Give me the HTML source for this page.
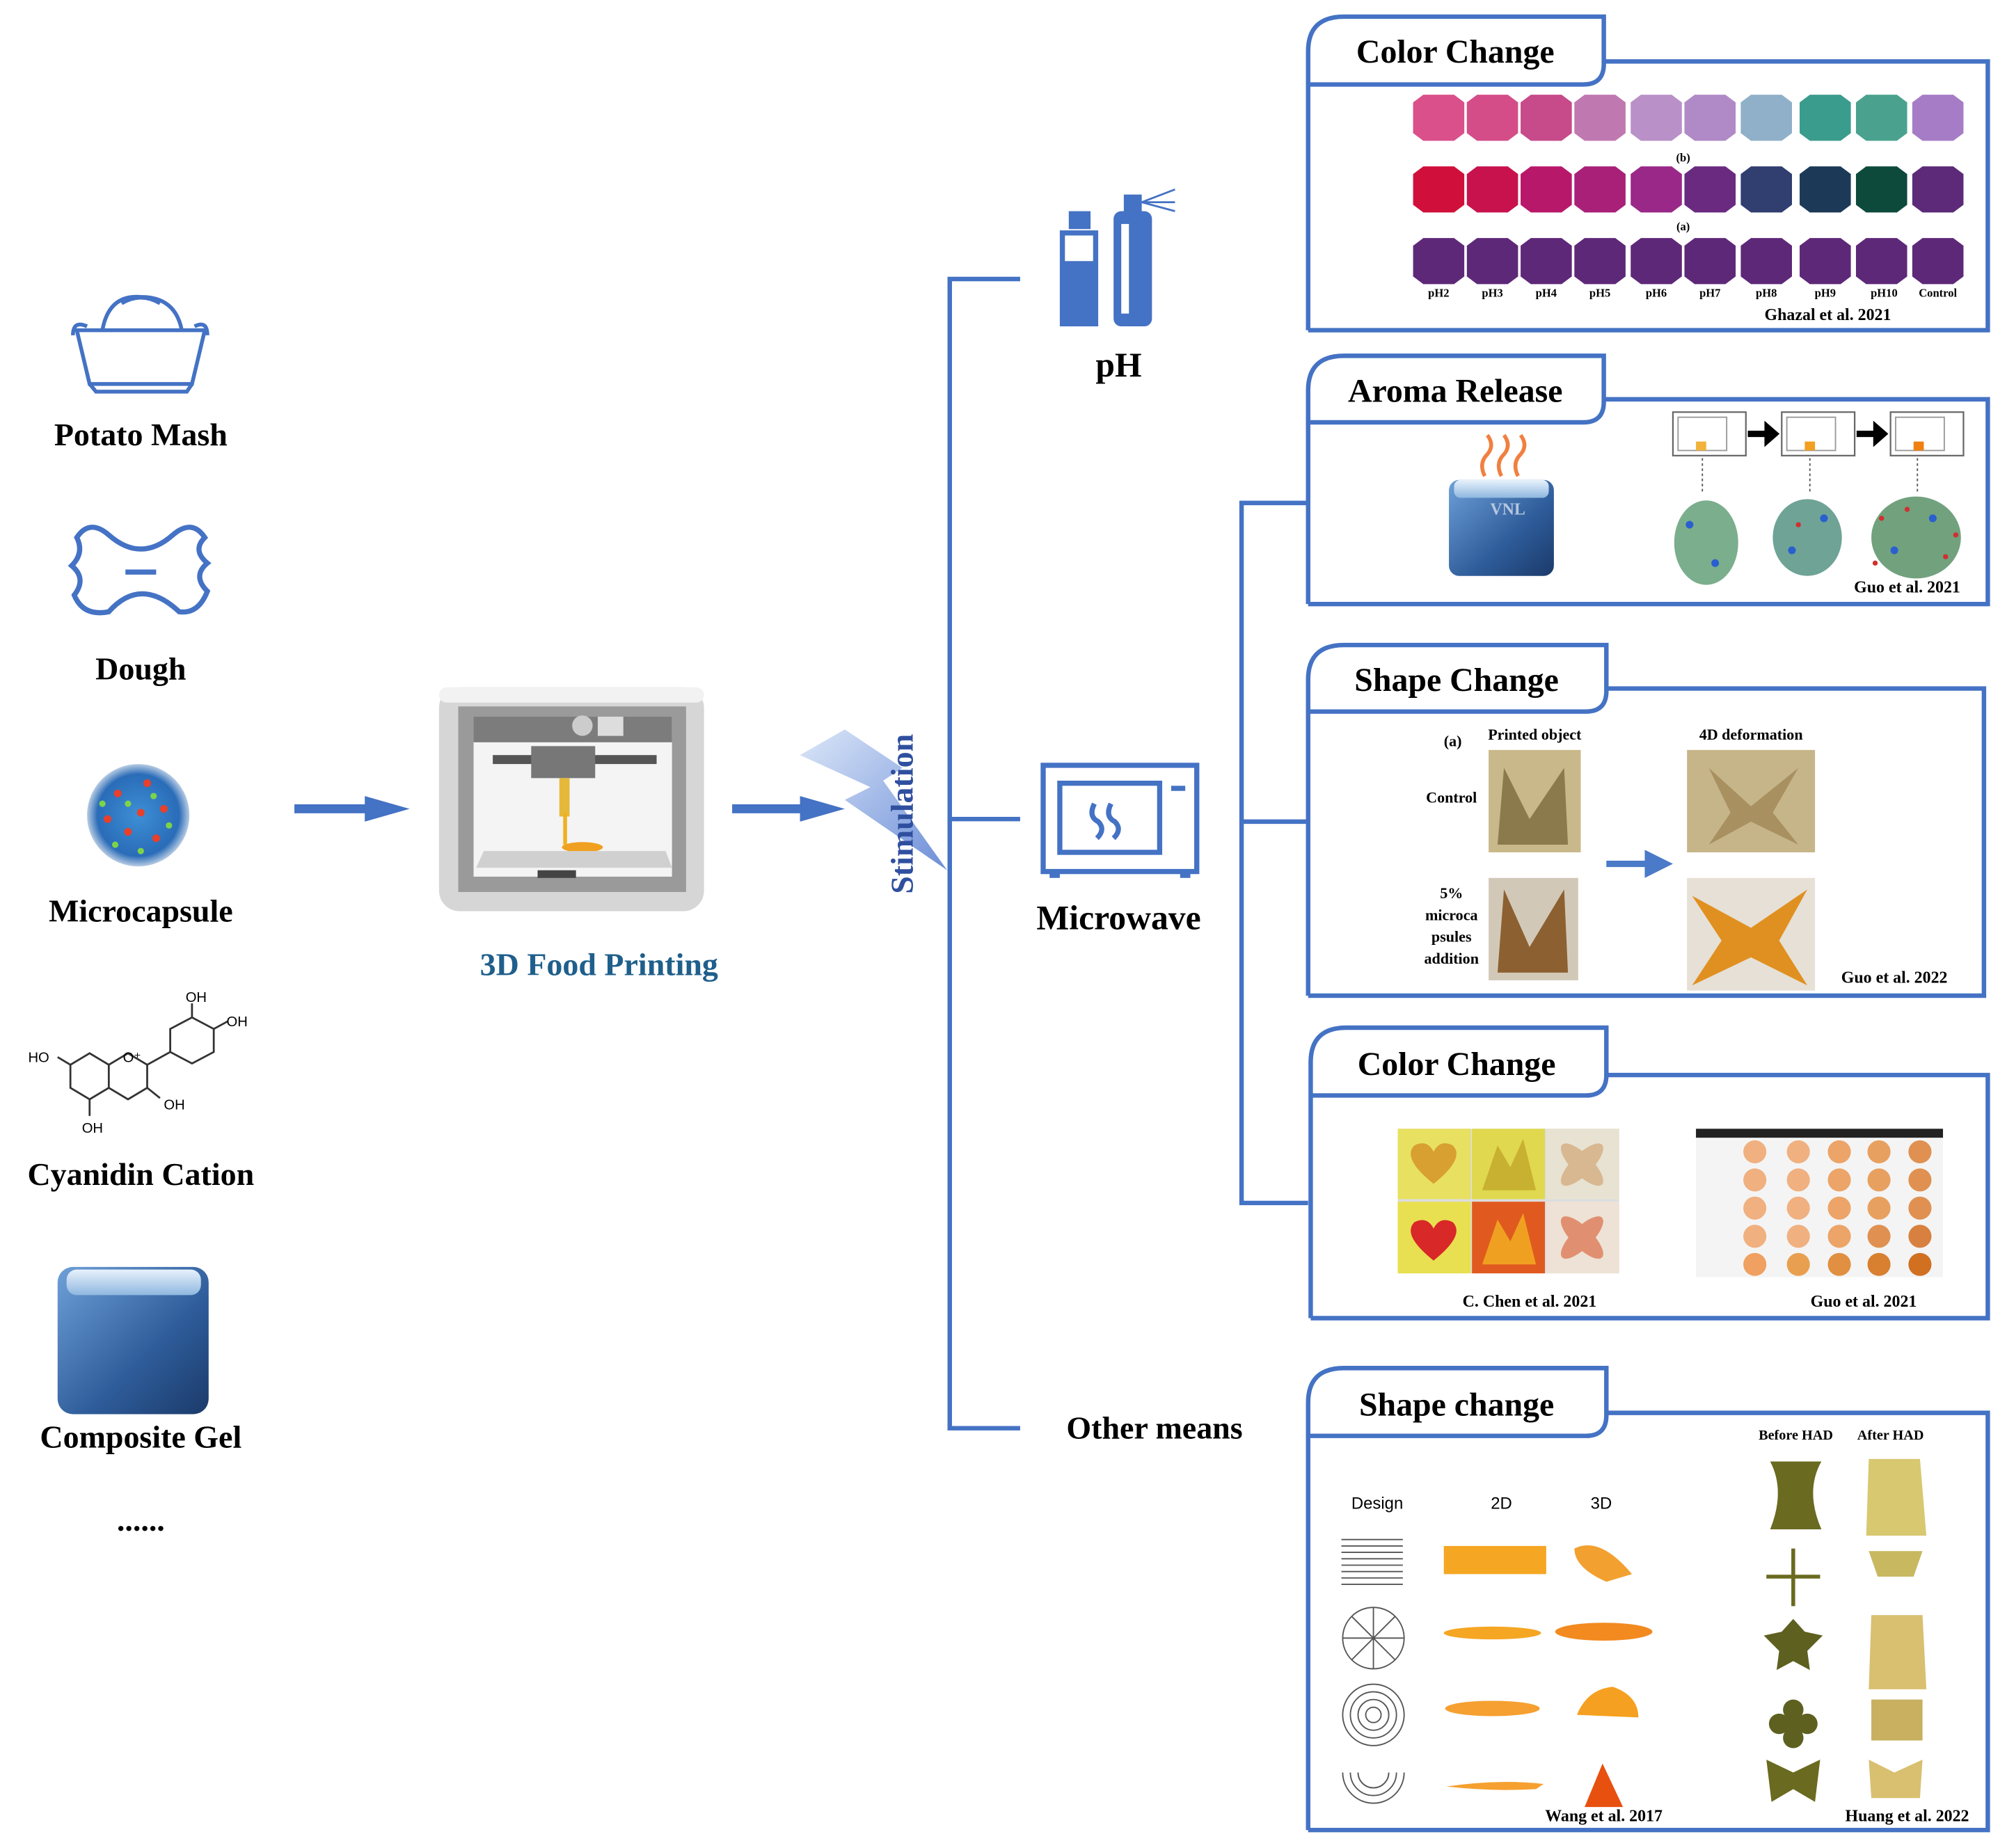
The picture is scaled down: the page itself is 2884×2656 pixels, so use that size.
<!DOCTYPE html>
<html><head><meta charset="utf-8"><style>
html,body{margin:0;padding:0;background:#fff;}
svg{display:block;}
text{font-family:"Liberation Serif",serif;font-weight:bold;fill:#000;}
</style></head><body>
<svg width="2884" height="2656" viewBox="0 0 1568 1444" xmlns="http://www.w3.org/2000/svg">
<defs>
<linearGradient id="cube" x1="0" y1="0" x2="1" y2="1"><stop offset="0" stop-color="#6fa0d8"/><stop offset="0.6" stop-color="#2e5c9a"/><stop offset="1" stop-color="#1b3a6a"/></linearGradient>
<linearGradient id="cubetop" x1="0" y1="0" x2="0" y2="1"><stop offset="0" stop-color="#e8f2fb"/><stop offset="1" stop-color="#8fb7e0"/></linearGradient>
<radialGradient id="mc" cx="0.5" cy="0.5" r="0.5"><stop offset="0" stop-color="#3d8fd6"/><stop offset="0.8" stop-color="#2a6cb8"/><stop offset="1" stop-color="#b7cbe3"/></radialGradient>
<linearGradient id="bolt" x1="0" y1="0" x2="1" y2="1"><stop offset="0" stop-color="#dbe6f8"/><stop offset="1" stop-color="#6d8fd8"/></linearGradient>
<path id="hx" d="M-20,-12 L-12,-18 L12,-18 L20,-12 L20,12 L12,18 L-12,18 L-20,12 Z"/>
</defs>

<!-- Left icons -->
<g fill="none" stroke="#4472c4" stroke-width="3">
<path d="M60,258 L160,258 L150,300 L70,300 Z"/>
<path d="M57,262 Q57,250 68,255 M162,262 Q162,250 152,255"/>
<path d="M80,258 Q85,230 110,232 Q137,232 142,258"/>
<path d="M70,300 L75,306 L146,306 L150,300"/>
<path d="M95,237 Q110,228 125,237"/>
<path d="M60,420 Q70,405 85,418 Q110,440 135,418 Q150,405 160,420 Q150,430 162,440 Q150,450 162,462 Q155,480 140,478 Q110,450 85,478 Q65,482 58,465 Q68,452 56,442 Q66,432 60,420 Z" stroke-width="4"/>
<path d="M98,447 L122,447" stroke-width="4"/>
</g>
<circle cx="108" cy="637" r="40" fill="url(#mc)"/>
<g fill="#e8402a"><circle cx="92" cy="620" r="3"/><circle cx="115" cy="612" r="3"/><circle cx="128" cy="632" r="3"/><circle cx="100" cy="650" r="3"/><circle cx="122" cy="655" r="3"/><circle cx="84" cy="640" r="3"/><circle cx="110" cy="635" r="3"/></g>
<g fill="#7bd34a"><circle cx="100" cy="628" r="2.5"/><circle cx="120" cy="622" r="2.5"/><circle cx="90" cy="660" r="2.5"/><circle cx="132" cy="645" r="2.5"/><circle cx="110" cy="665" r="2.5"/><circle cx="80" cy="628" r="2.5"/></g>
<!-- cyanidin -->
<g fill="none" stroke="#333" stroke-width="1.5">
<path d="M55,832 L70,823 L85,832 L85,850 L70,859 L55,850 Z"/>
<path d="M85,832 L100,823 L115,832 L115,850 L100,859 L85,850"/>
<path d="M115,832 L133,822 L133,804 L150,795 L167,804 L167,822 L150,831 L133,822"/>
<path d="M150,795 L150,784 M167,804 L178,798 M115,850 L125,858 M70,859 L70,872 M55,832 L45,826"/>
</g>
<g font-size="11">
<text x="145" y="783" style="font-weight:normal;font-family:'Liberation Sans',sans-serif">OH</text>
<text x="177" y="802" style="font-weight:normal;font-family:'Liberation Sans',sans-serif">OH</text>
<text x="22" y="830" style="font-weight:normal;font-family:'Liberation Sans',sans-serif">HO</text>
<text x="96" y="830" style="font-weight:normal;font-family:'Liberation Sans',sans-serif">O⁺</text>
<text x="128" y="867" style="font-weight:normal;font-family:'Liberation Sans',sans-serif">OH</text>
<text x="64" y="885" style="font-weight:normal;font-family:'Liberation Sans',sans-serif">OH</text>
</g>
<rect x="45" y="990" width="118" height="115" rx="12" fill="url(#cube)"/>
<rect x="52" y="992" width="105" height="20" rx="8" fill="url(#cubetop)"/>

<g font-size="25" text-anchor="middle">
<text x="110" y="348">Potato Mash</text>
<text x="110" y="531">Dough</text>
<text x="110" y="720">Microcapsule</text>
<text x="110" y="926">Cyanidin Cation</text>
<text x="110" y="1131">Composite Gel</text>
<text x="110" y="1196">......</text>
</g>

<path d="M230,632 L290,632" stroke="#4472c4" stroke-width="7"/>
<path d="M285,622 L320,632 L285,642 Z" fill="#4472c4"/>
<path d="M572,632 L630,632" stroke="#4472c4" stroke-width="7"/>
<path d="M625,622 L660,632 L625,642 Z" fill="#4472c4"/>

<rect x="343" y="537" width="207" height="175" rx="16" fill="#d6d6d6"/>
<rect x="343" y="537" width="207" height="12" rx="6" fill="#f2f2f2"/>
<rect x="358" y="552" width="178" height="145" fill="#9a9a9a"/>
<rect x="370" y="560" width="155" height="125" fill="#f4f4f4"/>
<rect x="370" y="560" width="155" height="20" fill="#7c7c7c"/>
<rect x="385" y="590" width="128" height="7" fill="#555"/>
<rect x="415" y="583" width="50" height="25" fill="#777"/>
<circle cx="455" cy="567" r="8" fill="#ccc"/>
<rect x="467" y="560" width="20" height="15" fill="#ddd"/>
<rect x="437" y="608" width="8" height="30" fill="#e6b83a"/>
<ellipse cx="455" cy="662" rx="16" ry="4" fill="#f0a020"/>
<rect x="440" y="635" width="3" height="25" fill="#f0b020"/>
<path d="M378,665 L520,665 L525,678 L372,678 Z" fill="#d0d0d0"/>
<rect x="420" y="680" width="30" height="6" fill="#444"/>
<text x="468" y="762" font-size="25" text-anchor="middle" style="fill:#1f5f8b">3D Food Printing</text>

<path d="M660,570 L705,600 L690,610 L740,680 L660,625 L680,615 L625,590 Z" fill="url(#bolt)"/>
<text transform="translate(713,636) rotate(-90)" font-size="25" text-anchor="middle" style="fill:#2f4f9f">Stimulation</text>

<g stroke="#4472c4" stroke-width="3.5" fill="none">
<path d="M797,218 L742,218 L742,1116 L797,1116 M742,640 L797,640"/>
<path d="M1022,393 L970,393 L970,940 L1022,940 M970,642 L1022,642"/>
</g>

<rect x="828" y="180" width="30" height="75" fill="#4472c4"/>
<rect x="832" y="184" width="22" height="20" fill="#fff"/>
<rect x="835" y="165" width="17" height="14" fill="#4472c4"/>
<rect x="870" y="165" width="30" height="90" rx="6" fill="#4472c4"/>
<rect x="876" y="175" width="6" height="70" fill="#fff"/>
<rect x="878" y="152" width="14" height="14" fill="#4472c4"/>
<path d="M892,158 L918,148 M892,158 L918,158 M892,158 L918,165" stroke="#4472c4" stroke-width="1.5"/>
<text x="874" y="294" font-size="27" text-anchor="middle">pH</text>

<rect x="815" y="598" width="120" height="83" fill="none" stroke="#4472c4" stroke-width="4"/>
<rect x="828" y="612" width="78" height="54" fill="none" stroke="#4472c4" stroke-width="4"/>
<path d="M855,628 Q850,638 858,642 Q864,648 857,655 M868,628 Q863,638 871,642 Q877,648 870,655" stroke="#4472c4" stroke-width="4" fill="none"/>
<rect x="915" y="614" width="11" height="4" fill="#4472c4"/>
<rect x="820" y="680" width="8" height="6" fill="#4472c4"/><rect x="922" y="680" width="8" height="6" fill="#4472c4"/>
<text x="874" y="726" font-size="27" text-anchor="middle">Microwave</text>
<text x="902" y="1124" font-size="25" text-anchor="middle">Other means</text>

<g fill="none" stroke="#4472c4" stroke-width="3.5">
<path d="M1022,258 L1022,40 Q1022,13 1050,13 L1253,13 L1253,50 Q1253,66 1237,66 L1022,66 M1253,48 L1553,48 L1553,258 L1022,258"/>
<path d="M1022,472 L1022,305 Q1022,278 1050,278 L1253,278 L1253,314 Q1253,330 1237,330 L1022,330 M1253,312 L1553,312 L1553,472 L1022,472"/>
<path d="M1022,778 L1022,531 Q1022,504 1050,504 L1255,504 L1255,540 Q1255,556 1239,556 L1022,556 M1255,538 L1550,538 L1550,778 L1022,778"/>
<path d="M1024,1030 L1024,830 Q1024,803 1052,803 L1255,803 L1255,840 Q1255,856 1239,856 L1024,856 M1255,840 L1553,840 L1553,1030 L1024,1030"/>
<path d="M1022,1430 L1022,1096 Q1022,1069 1050,1069 L1255,1069 L1255,1106 Q1255,1122 1239,1122 L1022,1122 M1255,1104 L1553,1104 L1553,1430 L1022,1430"/>
</g>
<g font-size="26" text-anchor="middle">
<text x="1137" y="49">Color Change</text>
<text x="1137" y="314">Aroma Release</text>
<text x="1138" y="540">Shape Change</text>
<text x="1138" y="840">Color Change</text>
<text x="1138" y="1106">Shape change</text>
</g>

<!-- hexes -->
<g>
<use href="#hx" x="1124" y="92" fill="#d9508a"/><use href="#hx" x="1166" y="92" fill="#d44d88"/><use href="#hx" x="1208" y="92" fill="#c74a8a"/><use href="#hx" x="1250" y="92" fill="#c078b0"/><use href="#hx" x="1294" y="92" fill="#b990c8"/><use href="#hx" x="1336" y="92" fill="#b08ac6"/><use href="#hx" x="1380" y="92" fill="#8fb0c8"/><use href="#hx" x="1426" y="92" fill="#3a9c8c"/><use href="#hx" x="1470" y="92" fill="#4aa28e"/><use href="#hx" x="1514" y="92" fill="#a67cc6"/>
<use href="#hx" x="1124" y="148" fill="#d0103a"/><use href="#hx" x="1166" y="148" fill="#c8124e"/><use href="#hx" x="1208" y="148" fill="#b8186a"/><use href="#hx" x="1250" y="148" fill="#a82078"/><use href="#hx" x="1294" y="148" fill="#9a2888"/><use href="#hx" x="1336" y="148" fill="#6a2a80"/><use href="#hx" x="1380" y="148" fill="#303e70"/><use href="#hx" x="1426" y="148" fill="#1c3a58"/><use href="#hx" x="1470" y="148" fill="#0e4a3c"/><use href="#hx" x="1514" y="148" fill="#5c2a78"/>
<use href="#hx" x="1124" y="204" fill="#5e2878"/><use href="#hx" x="1166" y="204" fill="#5e2878"/><use href="#hx" x="1208" y="204" fill="#5e2878"/><use href="#hx" x="1250" y="204" fill="#5e2878"/><use href="#hx" x="1294" y="204" fill="#5e2878"/><use href="#hx" x="1336" y="204" fill="#5e2878"/><use href="#hx" x="1380" y="204" fill="#5e2878"/><use href="#hx" x="1426" y="204" fill="#5e2878"/><use href="#hx" x="1470" y="204" fill="#5e2878"/><use href="#hx" x="1514" y="204" fill="#5e2878"/>
</g>
<g font-size="9" text-anchor="middle" style="font-weight:normal">
<text x="1315" y="126">(b)</text><text x="1315" y="180">(a)</text>
<text x="1124" y="232">pH2</text><text x="1166" y="232">pH3</text><text x="1208" y="232">pH4</text><text x="1250" y="232">pH5</text><text x="1294" y="232">pH6</text><text x="1336" y="232">pH7</text><text x="1380" y="232">pH8</text><text x="1426" y="232">pH9</text><text x="1472" y="232">pH10</text><text x="1514" y="232">Control</text>
</g>
<text x="1428" y="250" font-size="13" text-anchor="middle">Ghazal et al. 2021</text>

<!-- Panel 2 -->
<rect x="1132" y="375" width="82" height="75" rx="8" fill="url(#cube)"/>
<rect x="1136" y="375" width="74" height="14" rx="5" fill="url(#cubetop)"/>
<text x="1178" y="402" font-size="13" text-anchor="middle" style="fill:#b6c7e0">VNL</text>
<path d="M1160,372 Q1155,362 1162,355 Q1168,348 1162,340 M1173,372 Q1168,362 1175,355 Q1181,348 1175,340 M1186,372 Q1181,362 1188,355 Q1194,348 1188,340" stroke="#f08040" stroke-width="3" fill="none"/>
<g fill="#fff" stroke="#666" stroke-width="1.2">
<rect x="1307" y="322" width="57" height="34"/><rect x="1392" y="322" width="57" height="34"/><rect x="1477" y="322" width="57" height="34"/>
</g>
<g fill="none" stroke="#999" stroke-width="1"><rect x="1311" y="326" width="38" height="26"/><rect x="1396" y="326" width="38" height="26"/><rect x="1481" y="326" width="38" height="26"/></g>
<rect x="1325" y="345" width="8" height="7" fill="#f2b33a"/><rect x="1410" y="345" width="8" height="7" fill="#f2a020"/><rect x="1495" y="345" width="8" height="7" fill="#f08010"/>
<path d="M1367,338 L1380,338 L1380,332 L1388,339 L1380,346 L1380,340 L1367,340Z M1452,338 L1465,338 L1465,332 L1473,339 L1465,346 L1465,340 L1452,340Z" fill="#000" stroke="#000" stroke-width="3"/>
<g fill="none" stroke-dasharray="2,2" stroke="#555"><path d="M1330,358 L1330,385 M1414,358 L1414,385 M1498,358 L1498,385"/></g>
<ellipse cx="1333" cy="424" rx="25" ry="33" fill="#5a9a70" opacity="0.8"/>
<ellipse cx="1412" cy="420" rx="27" ry="30" fill="#4a8c7c" opacity="0.8"/>
<ellipse cx="1497" cy="420" rx="35" ry="32" fill="#4f8a5e" opacity="0.8"/>
<g fill="#2a5fd0"><circle cx="1320" cy="410" r="3"/><circle cx="1340" cy="440" r="3"/><circle cx="1400" cy="430" r="3"/><circle cx="1425" cy="405" r="3"/><circle cx="1480" cy="430" r="3"/><circle cx="1510" cy="405" r="3"/></g>
<g fill="#d03030"><circle cx="1405" cy="410" r="2"/><circle cx="1470" cy="405" r="2"/><circle cx="1520" cy="435" r="2"/><circle cx="1490" cy="398" r="2"/><circle cx="1465" cy="440" r="2"/><circle cx="1528" cy="418" r="2"/></g>
<text x="1490" y="463" font-size="13" text-anchor="middle">Guo et al. 2021</text>

<!-- Panel 3 -->
<g font-size="12" text-anchor="middle">
<text x="1135" y="583">(a)</text><text x="1199" y="578">Printed object</text><text x="1368" y="578">4D deformation</text>
<text x="1134" y="627">Control</text>
<text x="1134" y="702">5%</text><text x="1134" y="719">microca</text><text x="1134" y="736">psules</text><text x="1134" y="753">addition</text>
</g>
<rect x="1163" y="586" width="72" height="80" fill="#c9b98a"/>
<path d="M1175,600 L1195,640 L1222,600 L1225,660 L1170,660 Z" fill="#8a7a4c"/>
<rect x="1318" y="586" width="100" height="80" fill="#c7b58a"/>
<path d="M1335,600 L1368,630 L1405,600 L1385,635 L1405,660 L1368,642 L1335,660 L1352,635 Z" fill="#a89060"/>
<rect x="1163" y="686" width="70" height="80" fill="#d2c8b8"/>
<path d="M1175,695 L1195,740 L1222,695 L1225,760 L1170,760 Z" fill="#8c6030"/>
<rect x="1318" y="686" width="100" height="88" fill="#e6e0d6"/>
<path d="M1322,700 L1368,725 L1412,695 L1390,735 L1412,770 L1368,748 L1322,770 L1345,735 Z" fill="#e09020"/>
<path d="M1255,675 L1290,675" stroke="#4a7ac8" stroke-width="5"/><path d="M1285,664 L1307,675 L1285,686Z" fill="#4a7ac8"/>
<text x="1480" y="768" font-size="13" text-anchor="middle">Guo et al. 2022</text>

<!-- Panel 4 -->
<rect x="1092" y="882" width="173" height="113" fill="#ddd"/>
<rect x="1092" y="882" width="57" height="55" fill="#e8e060"/><rect x="1150" y="882" width="57" height="55" fill="#e0d84e"/><rect x="1208" y="882" width="57" height="55" fill="#e8e2d2"/>
<rect x="1092" y="939" width="57" height="56" fill="#e8e050"/><rect x="1150" y="939" width="57" height="56" fill="#e05a20"/><rect x="1208" y="939" width="57" height="56" fill="#eee2d6"/>
<path d="M1120,925 Q1095,905 1105,895 Q1115,890 1120,900 Q1125,890 1135,895 Q1145,905 1120,925Z" fill="#d8a030"/>
<path d="M1120,985 Q1095,965 1105,955 Q1115,950 1120,960 Q1125,950 1135,955 Q1145,965 1120,985Z" fill="#d82828"/>
<path d="M1158,930 L1170,895 L1180,912 L1190,890 L1200,930Z" fill="#c8b030"/>
<path d="M1158,988 L1170,953 L1180,970 L1190,948 L1200,988Z" fill="#f0a020"/>
<ellipse cx="1236" cy="910" rx="22" ry="8" fill="#d8b890" transform="rotate(45 1236 910)"/><ellipse cx="1236" cy="910" rx="22" ry="8" fill="#d8b890" transform="rotate(-45 1236 910)"/>
<ellipse cx="1236" cy="967" rx="22" ry="8" fill="#e09070" transform="rotate(45 1236 967)"/><ellipse cx="1236" cy="967" rx="22" ry="8" fill="#e09070" transform="rotate(-45 1236 967)"/>
<rect x="1325" y="882" width="193" height="116" fill="#f4f4f4"/>
<rect x="1325" y="882" width="193" height="7" fill="#222"/>
<g fill="#f0b080">
<circle cx="1371" cy="900" r="9"/><circle cx="1405" cy="900" r="9"/><circle cx="1437" cy="900" r="9" fill="#eca468"/><circle cx="1468" cy="900" r="9" fill="#e8a060"/><circle cx="1500" cy="900" r="9" fill="#e09050"/>
<circle cx="1371" cy="922" r="9"/><circle cx="1405" cy="922" r="9"/><circle cx="1437" cy="922" r="9" fill="#eca468"/><circle cx="1468" cy="922" r="9" fill="#e8a060"/><circle cx="1500" cy="922" r="9" fill="#e09050"/>
<circle cx="1371" cy="944" r="9"/><circle cx="1405" cy="944" r="9"/><circle cx="1437" cy="944" r="9" fill="#eca468"/><circle cx="1468" cy="944" r="9" fill="#e8a060"/><circle cx="1500" cy="944" r="9" fill="#e09050"/>
<circle cx="1371" cy="966" r="9"/><circle cx="1405" cy="966" r="9"/><circle cx="1437" cy="966" r="9" fill="#eca468"/><circle cx="1468" cy="966" r="9" fill="#e09050"/><circle cx="1500" cy="966" r="9" fill="#d88040"/>
<circle cx="1371" cy="988" r="9" fill="#f0a060"/><circle cx="1405" cy="988" r="9" fill="#e8a050"/><circle cx="1437" cy="988" r="9" fill="#e09040"/><circle cx="1468" cy="988" r="9" fill="#d88030"/><circle cx="1500" cy="988" r="9" fill="#d07020"/>
</g>
<text x="1195" y="1021" font-size="13" text-anchor="middle">C. Chen et al. 2021</text>
<text x="1456" y="1021" font-size="13" text-anchor="middle">Guo et al. 2021</text>

<!-- Panel 5 -->
<g font-size="13" text-anchor="middle">
<text x="1076" y="1179" style="font-weight:normal;font-family:'Liberation Sans',sans-serif">Design</text>
<text x="1173" y="1179" style="font-weight:normal;font-family:'Liberation Sans',sans-serif">2D</text>
<text x="1251" y="1179" style="font-weight:normal;font-family:'Liberation Sans',sans-serif">3D</text>
</g>
<g font-size="11" text-anchor="middle"><text x="1403" y="1125">Before HAD</text><text x="1477" y="1125">After HAD</text></g>
<g stroke="#555" stroke-width="1" fill="none">
<path d="M1048,1203 H1096 M1048,1208 H1096 M1048,1213 H1096 M1048,1218 H1096 M1048,1223 H1096 M1048,1228 H1096 M1048,1233 H1096 M1048,1238 H1096"/>
<circle cx="1073" cy="1280" r="24"/>
<path d="M1073,1256 V1304 M1049,1280 H1097 M1056,1263 L1090,1297 M1090,1263 L1056,1297"/>
<circle cx="1073" cy="1340" r="24"/><circle cx="1073" cy="1340" r="18"/><circle cx="1073" cy="1340" r="12"/><circle cx="1073" cy="1340" r="6"/>
<path d="M1049,1385 A24,24 0 0 0 1097,1385 M1055,1385 A18,18 0 0 0 1091,1385 M1061,1385 A12,12 0 0 0 1085,1385"/>
</g>
<rect x="1128" y="1208" width="80" height="22" fill="#f5a623"/>
<path d="M1230,1210 Q1250,1200 1275,1230 L1255,1236 Q1230,1225 1230,1210Z" fill="#f2a030"/>
<ellipse cx="1166" cy="1276" rx="38" ry="5" fill="#f5a623"/>
<ellipse cx="1253" cy="1275" rx="38" ry="7" fill="#f28a20"/>
<ellipse cx="1166" cy="1335" rx="37" ry="6" fill="#f5a030"/>
<path d="M1232,1340 Q1240,1320 1260,1318 Q1280,1325 1280,1342 Z" fill="#f5a020"/>
<path d="M1130,1396 Q1170,1390 1206,1394 L1200,1398 Q1165,1400 1130,1396Z" fill="#f5a030"/>
<path d="M1238,1412 L1252,1378 L1268,1412Z" fill="#e85010"/>
<path d="M1383,1142 L1423,1142 Q1410,1165 1423,1195 L1383,1195 Q1395,1165 1383,1142Z" fill="#6a6a20"/>
<path d="M1460,1140 L1500,1140 L1505,1200 L1458,1200Z" fill="#d8c870"/>
<path d="M1460,1212 L1502,1212 L1495,1232 L1467,1232Z" fill="#c8b860"/>
<path d="M1401,1210 V1255 M1380,1232 H1422" stroke="#6a6a20" stroke-width="3"/>
<path d="M1401,1265 L1410,1275 L1424,1278 L1412,1290 L1414,1305 L1401,1298 L1388,1305 L1390,1290 L1378,1278 L1392,1275Z" fill="#5e6020"/>
<path d="M1462,1262 L1502,1262 L1505,1320 L1460,1320Z" fill="#d8c070"/>
<circle cx="1401" cy="1347" r="9" fill="#5e6020"/><circle cx="1390" cy="1347" r="8" fill="#5e6020"/><circle cx="1412" cy="1347" r="8" fill="#5e6020"/><circle cx="1401" cy="1336" r="8" fill="#5e6020"/><circle cx="1401" cy="1358" r="8" fill="#5e6020"/>
<path d="M1462,1328 L1502,1328 L1502,1360 L1462,1360Z" fill="#c8b060"/>
<path d="M1380,1375 L1401,1385 L1422,1375 L1418,1408 L1401,1398 L1384,1408Z" fill="#6a6a20"/>
<path d="M1460,1375 L1480,1385 L1502,1375 L1500,1405 L1462,1405Z" fill="#d8c070"/>
<text x="1253" y="1423" font-size="13" text-anchor="middle">Wang et al. 2017</text>
<text x="1490" y="1423" font-size="13" text-anchor="middle">Huang et al. 2022</text>
</svg>
</body></html>
